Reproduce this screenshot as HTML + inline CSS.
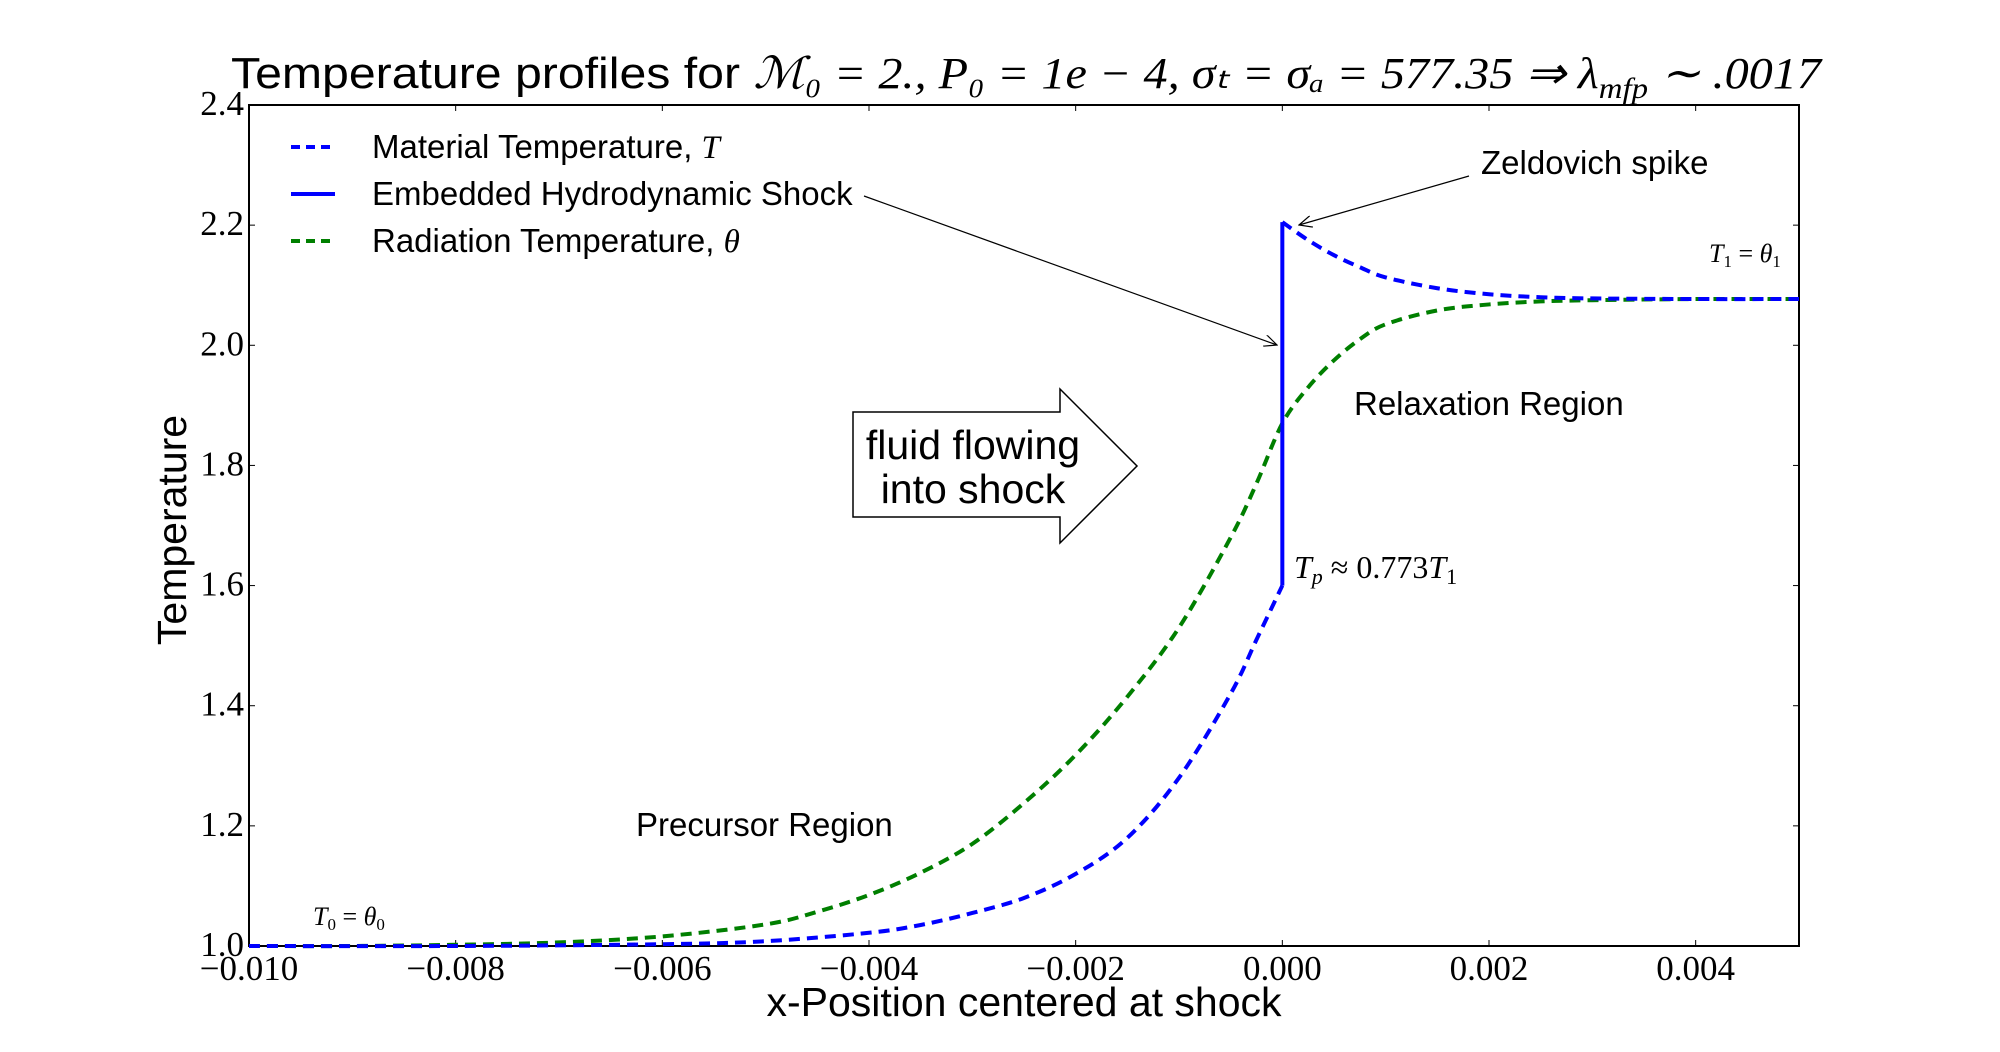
<!DOCTYPE html>
<html><head><meta charset="utf-8"><style>
html,body{margin:0;padding:0;background:#fff;}
svg{display:block;}
.sans{font-family:"Liberation Sans",sans-serif;}
.serif{font-family:"Liberation Serif",serif;}
</style></head><body>
<svg id="chart" width="2000" height="1052" viewBox="0 0 2000 1052">
<text x="1026" y="88" text-anchor="middle" font-size="44" class="sans" textLength="1590" lengthAdjust="spacingAndGlyphs">Temperature profiles for <tspan class="serif" font-style="italic">ℳ₀ = 2., P₀ = 1e − 4, σₜ = σₐ = 577.35 ⇒ λ<tspan font-size="30" dy="10">mfp</tspan><tspan dy="-10"> ∼ .0017</tspan></tspan></text>
<g id="plot"></g>
<text x="186" y="530" transform="rotate(-90 186 530)" text-anchor="middle" font-size="41" class="sans">Temperature</text>
<text x="1024" y="1016" text-anchor="middle" font-size="41" class="sans">x-Position centered at shock</text>
</svg>
<script>
const xTicks=[-0.010,-0.008,-0.006,-0.004,-0.002,0.000,0.002,0.004];
const xTickLabels=["−0.010","−0.008","−0.006","−0.004","−0.002","0.000","0.002","0.004"];
const yTicks=[1.0,1.2,1.4,1.6,1.8,2.0,2.2,2.4];
const yTickLabels=["1.0","1.2","1.4","1.6","1.8","2.0","2.2","2.4"];
const matXPre=[-0.010,-0.008,-0.006,-0.005,-0.004,-0.0035,-0.003,-0.0025,-0.002,-0.0015,-0.001,-0.0005,-0.00025,0];
const matTPre=[1.0,1.0,1.003,1.008,1.022,1.035,1.055,1.08,1.12,1.18,1.28,1.42,1.51,1.60];
const matXPost=[0,0.00025,0.0005,0.00075,0.001,0.0015,0.002,0.0025,0.003,0.004,0.005];
const matTPost=[2.205,2.175,2.15,2.13,2.113,2.095,2.085,2.08,2.078,2.077,2.077];
const radX=[-0.010,-0.009,-0.008,-0.007,-0.006,-0.005,-0.0045,-0.004,-0.0035,-0.003,-0.0025,-0.002,-0.0015,-0.001,-0.0005,-0.00025,0,0.00025,0.0005,0.00075,0.001,0.0015,0.002,0.0025,0.003,0.004,0.005];
const radT=[1.0,1.0,1.002,1.006,1.016,1.036,1.057,1.085,1.122,1.17,1.238,1.318,1.415,1.53,1.68,1.77,1.87,1.93,1.975,2.01,2.035,2.058,2.068,2.073,2.075,2.077,2.077];
const shockX=[0,0];
const shockT=[1.60,2.205];

const L=249,R=1799,T=105,B=946;
const xMin=-0.010,xMax=0.005,yMin=1.0,yMax=2.4;
const sx=v=>L+(v-xMin)/(xMax-xMin)*(R-L);
const sy=v=>B-(v-yMin)/(yMax-yMin)*(B-T);
const NS="http://www.w3.org/2000/svg";
const g=document.getElementById('plot');
function mk(tag,attrs,parent){const e=document.createElementNS(NS,tag);for(const k in attrs)e.setAttribute(k,attrs[k]);(parent||g).appendChild(e);return e;}
function smooth(xs,ys){
  const p=xs.map((x,i)=>[sx(x),sy(ys[i])]);
  let d=`M${p[0][0]},${p[0][1]}`;
  for(let i=0;i<p.length-1;i++){
    const p0=p[i-1]||p[i],p1=p[i],p2=p[i+1],p3=p[i+2]||p2;
    const c1=[p1[0]+(p2[0]-p0[0])/6,p1[1]+(p2[1]-p0[1])/6];
    const c2=[p2[0]-(p3[0]-p1[0])/6,p2[1]-(p3[1]-p1[1])/6];
    d+=`C${c1[0]},${c1[1]} ${c2[0]},${c2[1]} ${p2[0]},${p2[1]}`;
  }
  return d;
}
const frame=mk('rect',{x:L,y:T,width:R-L,height:B-T,fill:'none',stroke:'#000','stroke-width':2});


xTicks.forEach((v,i)=>{
  const x=sx(v);
  const t1=mk('line',{x1:x,x2:x,y1:B,y2:B-6,stroke:'#000','stroke-width':1});
  
  
  const t2=mk('line',{x1:x,x2:x,y1:T,y2:T+6,stroke:'#000','stroke-width':1});
  
  
  const tx=mk('text',{x:x,y:980,'text-anchor':'middle','font-size':35,class:'serif'});
  tx.textContent=xTickLabels[i];
  
  
});
yTicks.forEach((v,i)=>{
  const y=sy(v);
  const t1=mk('line',{x1:L,x2:L+6,y1:y,y2:y,stroke:'#000','stroke-width':1});
  
  
  const t2=mk('line',{x1:R,x2:R-6,y1:y,y2:y,stroke:'#000','stroke-width':1});
  
  
  const ty=mk('text',{x:244,y:y+10,'text-anchor':'end','font-size':35,class:'serif'});
  ty.textContent=yTickLabels[i];
  
  
});
const rad=mk('path',{d:smooth(radX,radT),fill:'none',stroke:'#007f00','stroke-width':4,'stroke-dasharray':'11 7'});


const m1=mk('path',{d:smooth(matXPre,matTPre),fill:'none',stroke:'#0000ff','stroke-width':4,'stroke-dasharray':'11 7'});


const m2=mk('path',{d:smooth(matXPost,matTPost),fill:'none',stroke:'#0000ff','stroke-width':4,'stroke-dasharray':'11 7'});


const sh=mk('line',{x1:sx(shockX[0]),x2:sx(shockX[1]),y1:sy(shockT[0]),y2:sy(shockT[1]),stroke:'#0000ff','stroke-width':4});


</script>
<svg width="2000" height="1052" style="position:absolute;left:0;top:0">
<defs><marker id="ah" markerWidth="14" markerHeight="12" refX="13" refY="6" orient="auto" markerUnits="userSpaceOnUse"><path d="M0,0 L13,6 L0,12" fill="none" stroke="#000" stroke-width="1.2"/></marker></defs>
<g>
<line x1="291" x2="335" y1="147" y2="147" stroke="#0000ff" stroke-width="4" stroke-dasharray="9 6"/>
<text x="372" y="158" font-size="33" class="sans">Material Temperature, <tspan class="serif" font-style="italic">T</tspan></text>
<line x1="291" x2="335" y1="194" y2="194" stroke="#0000ff" stroke-width="4"/>
<text x="372" y="205" font-size="33" class="sans">Embedded Hydrodynamic Shock</text>
<line x1="291" x2="335" y1="241" y2="241" stroke="#007f00" stroke-width="4" stroke-dasharray="9 6"/>
<text x="372" y="252" font-size="33" class="sans">Radiation Temperature, <tspan class="serif" font-style="italic">θ</tspan></text>
</g>
<line x1="864" y1="196" x2="1277" y2="345" stroke="#000" stroke-width="1.2" marker-end="url(#ah)"/>
<text x="1481" y="174" font-size="33" class="sans">Zeldovich spike</text>
<line x1="1469" y1="176" x2="1299" y2="225" stroke="#000" stroke-width="1.2" marker-end="url(#ah)"/>
<text x="1354" y="415" font-size="33" class="sans">Relaxation Region</text>
<text x="636" y="836" font-size="33" class="sans">Precursor Region</text>
<text x="1294" y="578" font-size="32" class="serif" font-style="italic">T<tspan font-size="22" dy="6">p</tspan><tspan dy="-6" font-style="normal"> ≈ 0.773</tspan>T<tspan font-size="22" dy="6" font-style="normal">1</tspan></text>
<text x="313" y="925" font-size="26" class="serif" font-style="italic">T<tspan font-size="17" dy="5" font-style="normal">0</tspan><tspan dy="-5" font-style="normal"> = </tspan>θ<tspan font-size="17" dy="5" font-style="normal">0</tspan></text>
<text x="1709" y="262" font-size="26" class="serif" font-style="italic">T<tspan font-size="17" dy="5" font-style="normal">1</tspan><tspan dy="-5" font-style="normal"> = </tspan>θ<tspan font-size="17" dy="5" font-style="normal">1</tspan></text>
<path d="M853,412 L1060,412 L1060,389 L1137,466 L1060,543 L1060,517 L853,517 Z" fill="#fff" stroke="#000" stroke-width="1.5"/>
<text x="973" y="459" text-anchor="middle" font-size="41" class="sans">fluid flowing</text>
<text x="973" y="503" text-anchor="middle" font-size="41" class="sans">into shock</text>
</svg>
</body></html>
